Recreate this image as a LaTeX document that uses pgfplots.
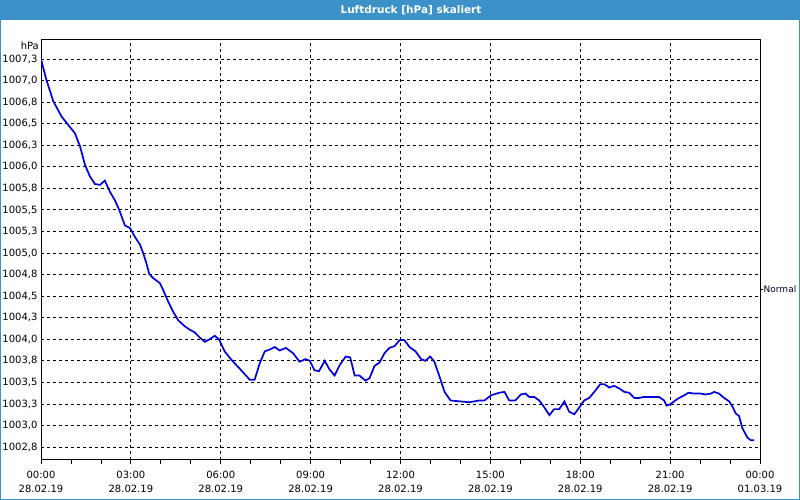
\documentclass[border=0pt]{standalone}
\usepackage{fontspec}
\setmainfont{DejaVu Sans}
\usepackage{pgfplots}
\pgfplotsset{compat=1.18}
\definecolor{barblue}{RGB}{61,145,201}
\definecolor{lineblue}{RGB}{0,0,225}
\begin{document}
\begin{tikzpicture}
\useasboundingbox (0,0) rectangle (800bp,500bp);
\fill[white] (0,0) rectangle (800bp,500bp);
\fill[barblue] (0,480bp) rectangle (800bp,500bp);
\draw[barblue,line width=1bp] (0.5bp,0.5bp) rectangle (799.5bp,499.5bp);
\node[text=white,font=\bfseries\fontsize{10.5bp}{12bp}\selectfont] at (411bp,490bp) {Luftdruck [hPa] skaliert};
\node[anchor=east,inner sep=0pt,font=\fontsize{10bp}{12bp}\selectfont] at (39bp,454bp) {hPa};
\begin{axis}[
  at={(41bp,40bp)}, anchor=south west, scale only axis,
  width=719bp, height=420bp,
  xmin=0, xmax=24, ymin=1002.60, ymax=1007.47,
  axis line style={black,line width=1bp},
  xtick={0,3,...,24},
  minor xtick={0,1,...,24},
  xticklabels={{00:00\\28.02.19},{03:00\\28.02.19},{06:00\\28.02.19},{09:00\\28.02.19},{12:00\\28.02.19},{15:00\\28.02.19},{18:00\\28.02.19},{21:00\\28.02.19},{00:00\\01.03.19}},
  xticklabel style={align=center,font=\fontsize{10bp}{14bp}\selectfont,yshift=-4bp},
  ytick={1002.75,1003,1003.25,1003.5,1003.75,1004,1004.25,1004.5,1004.75,1005,1005.25,1005.5,1005.75,1006,1006.25,1006.5,1006.75,1007,1007.25},
  yticklabels={{1002,8},{1003,0},{1003,3},{1003,5},{1003,8},{1004,0},{1004,3},{1004,5},{1004,8},{1005,0},{1005,3},{1005,5},{1005,8},{1006,0},{1006,3},{1006,5},{1006,8},{1007,0},{1007,3}},
  yticklabel style={font=\fontsize{10bp}{12bp}\selectfont},
  xtick align=outside,
  major tick length=4bp, minor tick length=4bp,
  x tick style={black,line width=0.8bp},
  y tick style={draw=none},
  tick pos=left,
  xmajorgrids, ymajorgrids,
  major grid style={black,line width=0.8bp,dash pattern=on 3bp off 3bp},
]
\addplot[lineblue,line width=1.7bp] coordinates {
(0,1007.25) (0.17,1007.02) (0.41,1006.76) (0.69,1006.58) (0.83,1006.52) (1.13,1006.39) (1.30,1006.24) (1.47,1006.02) (1.63,1005.89) (1.80,1005.80) (1.97,1005.79) (2.13,1005.84) (2.30,1005.71) (2.47,1005.61) (2.61,1005.50) (2.80,1005.32) (2.97,1005.29) (3.13,1005.19) (3.30,1005.10) (3.41,1005.00) (3.52,1004.88) (3.61,1004.76) (3.74,1004.71) (3.97,1004.65) (4.08,1004.57) (4.24,1004.44) (4.41,1004.32) (4.58,1004.22) (4.80,1004.15) (4.97,1004.11) (5.13,1004.08) (5.30,1004.02) (5.47,1003.97) (5.63,1004.00) (5.80,1004.04) (5.94,1004.00) (6.13,1003.86) (6.36,1003.76) (6.63,1003.66) (6.97,1003.53) (7.13,1003.53) (7.30,1003.72) (7.47,1003.86) (7.63,1003.88) (7.80,1003.91) (7.97,1003.87) (8.17,1003.90) (8.41,1003.84) (8.63,1003.74) (8.83,1003.77) (8.97,1003.75) (9.13,1003.64) (9.28,1003.63) (9.47,1003.75) (9.63,1003.65) (9.80,1003.58) (9.97,1003.70) (10.17,1003.80) (10.32,1003.79) (10.47,1003.58) (10.63,1003.58) (10.83,1003.52) (10.97,1003.55) (11.13,1003.69) (11.30,1003.73) (11.47,1003.84) (11.63,1003.90) (11.80,1003.92) (11.97,1003.99) (12.13,1003.99) (12.30,1003.91) (12.50,1003.86) (12.69,1003.77) (12.83,1003.75) (12.99,1003.80) (13.13,1003.74) (13.30,1003.57) (13.47,1003.39) (13.67,1003.29) (13.97,1003.28) (14.30,1003.27) (14.47,1003.28) (14.63,1003.29) (14.80,1003.29) (15.02,1003.35) (15.30,1003.38) (15.47,1003.39) (15.63,1003.29) (15.83,1003.29) (16.02,1003.36) (16.17,1003.37) (16.30,1003.33) (16.47,1003.33) (16.63,1003.29) (16.80,1003.21) (16.97,1003.12) (17.13,1003.19) (17.30,1003.19) (17.47,1003.28) (17.63,1003.16) (17.80,1003.13) (17.97,1003.21) (18.13,1003.29) (18.30,1003.32) (18.47,1003.39) (18.67,1003.48) (18.80,1003.48) (18.97,1003.44) (19.13,1003.46) (19.30,1003.43) (19.47,1003.39) (19.63,1003.38) (19.80,1003.32) (19.97,1003.32) (20.10,1003.33) (20.63,1003.33) (20.80,1003.29) (20.88,1003.23) (21.02,1003.25) (21.13,1003.28) (21.30,1003.32) (21.47,1003.35) (21.61,1003.38) (21.80,1003.37) (22.02,1003.37) (22.19,1003.36) (22.36,1003.37) (22.47,1003.39) (22.63,1003.37) (22.80,1003.32) (22.97,1003.28) (23.08,1003.22) (23.19,1003.14) (23.30,1003.11) (23.41,1002.97) (23.58,1002.86) (23.69,1002.83) (23.80,1002.83)
};
\end{axis}
\begin{axis}[
  at={(41bp,40bp)}, anchor=south west, scale only axis,
  width=719bp, height=420bp,
  xmin=0, xmax=24, ymin=1002.60, ymax=1007.47,
  hide x axis,
  axis y line*=right,
  axis line style={draw=none},
  ytick={1004.58}, yticklabels={Normal},
  ytick align=outside,
  major tick length=3bp,
  y tick style={black,line width=0.8bp},
  yticklabel style={font=\fontsize{9bp}{11bp}\selectfont,inner sep=0.5bp,text=black!85!blue},
]
\addplot[draw=none] coordinates {(0,1004) (24,1004)};
\end{axis}
\end{tikzpicture}
\end{document}
